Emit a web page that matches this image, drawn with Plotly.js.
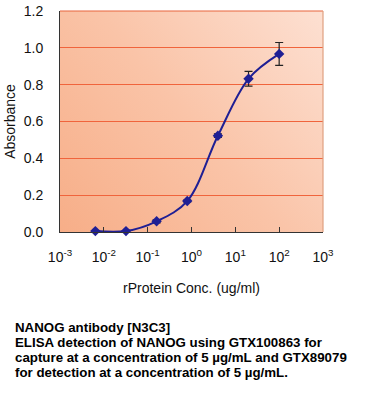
<!DOCTYPE html>
<html>
<head>
<meta charset="utf-8">
<script src="https://cdn.plot.ly/plotly-3.0.1.min.js"></script>
<style>
html,body{margin:0;padding:0;background:#fff;}
#chart{width:366px;height:400px;}
</style>
</head>
<body>
<div id="chart"></div>
<script>
// Data
var concentration = [0.0064, 0.032, 0.16, 0.8, 4, 20, 100];
var absorbance = [0.005, 0.005, 0.058, 0.168, 0.523, 0.832, 0.967];
var errorValues = [0.0, 0.0, 0.008, 0.005, 0.01, 0.04, 0.062];
var xTickVals = [0.001, 0.01, 0.1, 1, 10, 100, 1000];
var xTickText = ['10<sup>-3</sup>', '10<sup>-2</sup>', '10<sup>-1</sup>', '10<sup>0</sup>', '10<sup>1</sup>', '10<sup>2</sup>', '10<sup>3</sup>'];
var yTickVals = [0, 0.2, 0.4, 0.6, 0.8, 1.0, 1.2];
var yTickText = ['0.0','0.2','0.4','0.6','0.8','1.0','1.2'];
var captionLines = [
  'NANOG antibody [N3C3]',
  'ELISA detection of NANOG using GTX100863 for',
  'capture at a concentration of 5 µg/mL and GTX89079',
  'for detection at a concentration of 5 µg/mL.'
];

// gradient background image for plot area
var cv = document.createElement('canvas');
cv.width = 263; cv.height = 221;
var ctx = cv.getContext('2d');
var g = ctx.createLinearGradient(0, 221, 263, 0);
g.addColorStop(0, '#f7ae88');
g.addColorStop(0.5, '#fac4a8');
g.addColorStop(1, '#fde0d2');
ctx.fillStyle = g;
ctx.fillRect(0, 0, 263, 221);
var bgURL = cv.toDataURL('image/png');

var L = 60, T = 11, W = 263, H = 221;
var FONT = 'Liberation Sans, Arial, sans-serif';

var annotations = captionLines.map(function(t, i){
  return {
    text: '<b>' + t + '</b>', showarrow: false, xref: 'paper', yref: 'paper',
    x: (13 - L) / W, y: (T + H - (327 + i * 15)) / H,
    xanchor: 'left', yanchor: 'middle',
    font: {family: FONT, size: 13.3, color: '#000'}
  };
});

var trace = {
  x: concentration, y: absorbance, type: 'scatter', mode: 'lines+markers',
  line: {color: '#1f1f94', width: 2, shape: 'spline', smoothing: 1},
  marker: {symbol: 'diamond', size: 8, color: '#1f1f94'},
  error_y: {type: 'data', array: errorValues, visible: true, color: '#222', thickness: 1.2, width: 4},
  cliponaxis: false
};

var layout = {
  width: 366, height: 400,
  margin: {l: L, r: 366 - L - W, t: T, b: 400 - T - H},
  paper_bgcolor: '#ffffff',
  plot_bgcolor: 'rgba(0,0,0,0)',
  showlegend: false,
  font: {family: FONT, color: '#111'},
  images: [{source: bgURL, xref: 'paper', yref: 'paper', x: 0, y: 1, sizex: 1, sizey: 1,
    sizing: 'stretch', xanchor: 'left', yanchor: 'top', layer: 'below'}],
  xaxis: {
    type: 'log', range: [-3, 3], tickvals: xTickVals, ticktext: xTickText,
    ticks: 'inside', ticklen: 5, tickcolor: '#333', tickwidth: 1,
    ticklabelstandoff: 12,
    showgrid: false, zeroline: false,
    showline: true, linecolor: '#333', linewidth: 1,
    tickfont: {size: 14, color: '#111'},
    title: {text: 'rProtein Conc. (ug/ml)', font: {size: 14, color: '#111'}, standoff: 19}
  },
  yaxis: {
    range: [0, 1.2], tickvals: yTickVals, ticktext: yTickText,
    ticks: '', showgrid: true, gridcolor: '#f0643c', gridwidth: 1,
    ticklabelstandoff: 13,
    zeroline: false, showline: true, linecolor: '#333', linewidth: 1,
    tickfont: {size: 14, color: '#111'},
    title: {text: 'Absorbance', font: {size: 14, color: '#111'}, standoff: 4}
  },
  shapes: [
    {type: 'line', xref: 'paper', yref: 'paper', x0: 0, x1: 1, y0: 1, y1: 1, line: {color: '#e8643c', width: 1.2}},
    {type: 'line', xref: 'paper', yref: 'paper', x0: 1, x1: 1, y0: 0, y1: 1, line: {color: '#e0a080', width: 1.2}}
  ],
  annotations: annotations
};

Plotly.newPlot('chart', [trace], layout, {displayModeBar: false, staticPlot: true});
</script>
</body>
</html>
